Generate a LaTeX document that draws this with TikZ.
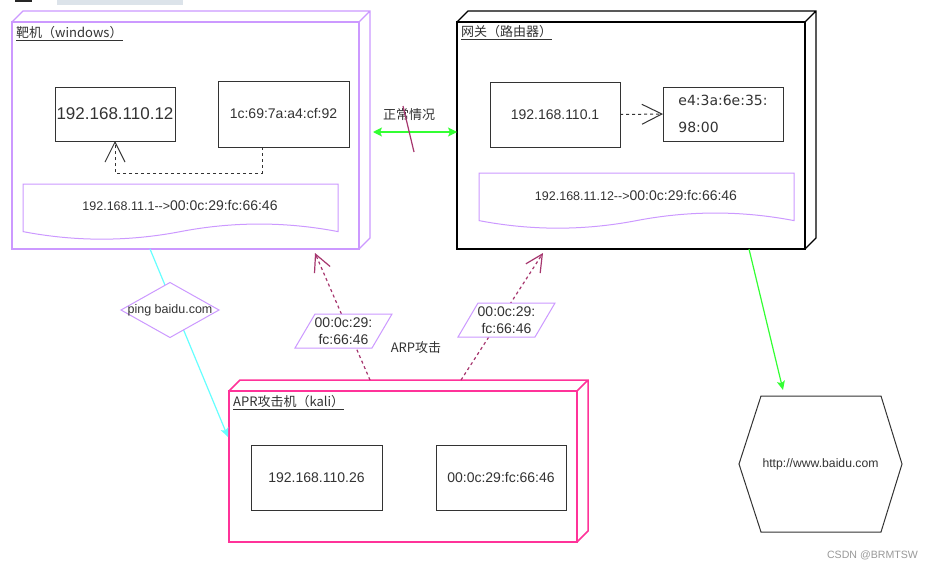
\documentclass[tikz,border=0pt]{standalone}
\usepackage{fontspec}
\setmainfont{Liberation Sans}
\newfontfamily\cjk{Noto Sans CJK SC}
\newfontfamily\dejavu{DejaVu Sans}
\usetikzlibrary{arrows.meta,calc}
\definecolor{txt}{HTML}{333333}
\definecolor{lilac}{HTML}{CC99FF}
\definecolor{hotpink}{HTML}{FF3399}
\definecolor{lgreen}{HTML}{33FF33}
\definecolor{lcyan}{HTML}{66FFFF}
\definecolor{maroonx}{HTML}{A6366E}
\definecolor{boxline}{HTML}{333333}
\definecolor{topgray}{HTML}{DCE3EA}
\definecolor{wmark}{HTML}{999999}
\newcommand{\mydepth}[2]{\draw[#2] (#1.north west) -- ++(11,-11) -- ($(#1.north east)+(11,-11)$) -- ($(#1.south east)+(11,-11)$) -- (#1.south east) (#1.north east) -- ++(11,-11);}
\newcommand{\mydoc}[4]{%
  \pgfmathsetmacro\dw{#3/6}%
  \pgfmathsetmacro\dd{0.6*0.3*#4}%
  \pgfmathsetmacro\hb{0.85*#4}%
  \pgfmathsetmacro\hw{#3/2}%
  \draw[docline] (#1,#2) -- ++(#3,0) -- ++(0,\hb) .. controls +(-\dw,-\dd) and +(\dw,-\dd) .. ++(-\hw,0) .. controls +(-\dw,\dd) and +(\dw,\dd) .. ++(-\hw,0) -- cycle;}
\begin{document}
\begin{tikzpicture}[x=1pt,y=-1pt,
  frame3d/.style={line width=1.1pt, inner sep=0pt, outer sep=0pt},
  box/.style={draw=boxline, line width=1pt, fill=white, text=txt, inner sep=0pt, outer sep=0pt, font=\fontsize{14}{17}\selectfont},
  lbl/.style={anchor=west, text=txt, inner sep=0pt, font=\cjk\fontsize{13}{15}\selectfont},
  plain/.style={text=txt, inner sep=0pt, font=\fontsize{13}{15}\selectfont},
  docline/.style={draw=lilac, line width=1pt, fill=white},
  helper/.style={inner sep=0pt, outer sep=0pt},
  dashlink/.style={draw=boxline, line width=1pt, dash pattern=on 3pt off 3pt, -{Straight Barb[length=20pt,width=20pt,line width=1pt]}},
  atk/.style={draw=maroonx, line width=1.2pt, dash pattern=on 3pt off 3pt, -{Straight Barb[length=17pt,width=17pt,line width=1.2pt]}},
  paraline/.style={draw=lilac, line width=1pt, fill=white},
]
\useasboundingbox (0,0) rectangle (933,570);
\fill[white] (0,0) rectangle (933,570);
% cropped artifacts at the top edge
\fill[black!85] (15,0) rectangle (32,2);
\fill[topgray] (57,0) rectangle (183,5);

% ---- windows target ----
\node[frame3d, draw=lilac, minimum width=347pt, minimum height=227pt] (win) at (185.5,135.5) {};
\mydepth{win}{draw=lilac, line width=1.1pt}
\node[lbl] (winlbl) at (16,34) {\underline{靶机（windows）}};
\node[box, minimum width=120pt, minimum height=54pt, font=\fontsize{17}{20}\selectfont] (ip1) at (115,114) {192.168.110.12};
\node[box, minimum width=131pt, minimum height=66pt] (mac1) at (283.5,114) {1c:69:7a:a4:cf:92};
\draw[dashlink] ([xshift=-21.5pt]mac1.south) -- ++(0,26) -| (ip1.south);
\mydoc{23}{184}{315}{56}
\node[plain] (docw) at (180,205) {{\fontsize{12.5}{15}\selectfont 192.168.11.1-{}-{}>}{\fontsize{14}{17}\selectfont 00:0c:29:fc:66:46}};

% ---- gateway ----
\node[frame3d, draw=black, minimum width=348pt, minimum height=227pt] (gw) at (631,135.5) {};
\mydepth{gw}{draw=black, line width=1.1pt}
\node[lbl] (gwlbl) at (461,33) {\underline{网关（路由器）}};
\node[box, minimum width=130pt, minimum height=65pt] (ip2) at (555,114.5) {192.168.110.1};
\node[box, minimum width=120pt, minimum height=54pt, align=left, font=\dejavu\fontsize{14}{27}\selectfont] (mac2) at (723,114) {e4:3a:6e:35:\\98:00};
\draw[dashlink] (ip2.east) -- (mac2.west);
\mydoc{479}{173}{315}{56}
\node[plain] (docg) at (636,195) {{\fontsize{12.5}{15}\selectfont 192.168.11.12-{}-{}>}{\fontsize{14}{17}\selectfont 00:0c:29:fc:66:46}};

% ---- normal link ----
\draw[draw=lgreen, line width=1.2pt, {Stealth[length=9pt,width=9pt,inset=2pt]}-{Stealth[length=9pt,width=9pt,inset=2pt]}] ([xshift=14pt,yshift=3.5pt]win.east) -- ([yshift=3.5pt]gw.west);
\node[plain, font=\cjk\fontsize{13}{15}\selectfont] (normal) at (409,115) {正常情况};
\coordinate (slashA) at (403,106);
\coordinate (slashB) at (414,152);
\draw[draw=maroonx, line width=1.2pt] (slashA) -- (slashB);

% ---- kali attacker ----
\node[frame3d, draw=hotpink, line width=1.5pt, minimum width=348pt, minimum height=151pt] (kali) at (403,466.5) {};
\mydepth{kali}{draw=hotpink, line width=1.5pt}
\node[lbl] (kalilbl) at (233,403) {\underline{APR攻击机（kali）}};
\node[box, minimum width=131pt, minimum height=65pt] (ip3) at (316.5,477.5) {192.168.110.26};
\node[box, minimum width=130pt, minimum height=65pt] (mac3) at (501,477.5) {00:0c:29:fc:66:46};

% ---- ping path ----
\draw[draw=lcyan, line width=1.2pt, -{Stealth[length=9pt,width=8pt,inset=2pt]}] ([xshift=-35.5pt]win.south) -- ([xshift=-1pt,yshift=29.5pt]kali.west);
\node[helper, minimum width=98pt, minimum height=55pt] (pingbox) at (170,310) {};
\draw[paraline] (pingbox.west) -- (pingbox.north) -- (pingbox.east) -- (pingbox.south) -- cycle;
\node[plain, font=\fontsize{12.5}{15}\selectfont] (ping) at (pingbox.center) {ping baidu.com};

% ---- ARP attack arrows ----
\draw[atk] ([xshift=-33pt,yshift=11pt]kali.north) -- ([xshift=129.5pt,yshift=-4pt]win.south);
\draw[atk] ([xshift=58pt,yshift=11pt]kali.north) -- ([xshift=-88pt,yshift=-4pt]gw.south);
\node[helper, minimum width=97pt, minimum height=34pt] (p1) at (343.5,331) {};
\draw[paraline] (p1.south west) -- ([xshift=20pt]p1.north west) -- (p1.north east) -- ([xshift=-20pt]p1.south east) -- cycle;
\node[plain, align=center, font=\fontsize{14}{17}\selectfont] (p1t) at (p1.center) {00:0c:29:\\fc:66:46};
\node[helper, minimum width=97pt, minimum height=34pt] (p2) at (506.5,320) {};
\draw[paraline] (p2.south west) -- ([xshift=20pt]p2.north west) -- (p2.north east) -- ([xshift=-20pt]p2.south east) -- cycle;
\node[plain, align=center, font=\fontsize{14}{17}\selectfont] (p2t) at (p2.center) {00:0c:29:\\fc:66:46};
\node[plain, font=\cjk\fontsize{13}{15}\selectfont] (arp) at (416,348) {ARP攻击};

% ---- baidu ----
\node[helper, minimum width=163pt, minimum height=136pt] (hex) at (820.5,464) {};
\draw[draw=boxline, line width=1pt, fill=white] (hex.west) -- ([xshift=22pt]hex.north west) -- ([xshift=-21pt]hex.north east) -- (hex.east) -- ([xshift=-21pt]hex.south east) -- ([xshift=22pt]hex.south west) -- cycle;
\node[plain, font=\fontsize{12.2}{15}\selectfont] (baidu) at (hex.center) {http://www.baidu.com};
\draw[draw=lgreen, line width=1.2pt, -{Stealth[length=9pt,width=8pt,inset=2pt]}] ([xshift=118pt]gw.south) -- ([xshift=-37.5pt,yshift=6pt]hex.north);

% ---- watermark ----
\node[text=wmark, inner sep=0pt, font=\fontsize{10.6}{13}\selectfont] (csdn) at (872.5,555) {CSDN @BRMTSW};
\end{tikzpicture}
\end{document}
